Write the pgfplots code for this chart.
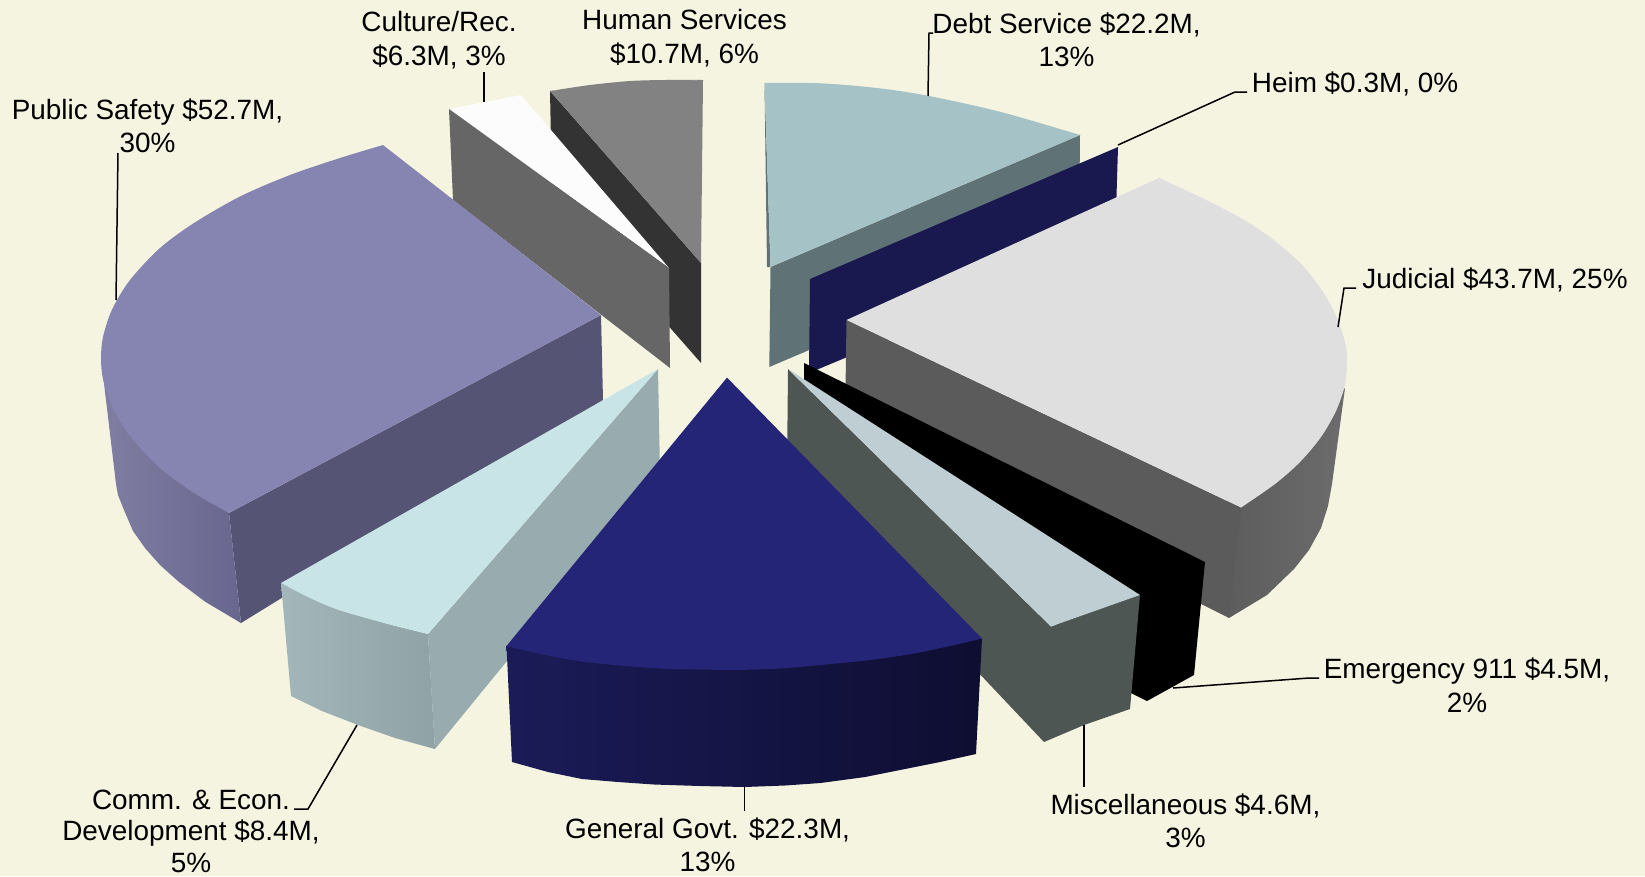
\documentclass[border=0pt]{standalone}
\usepackage{pgfplots}
\pgfplotsset{compat=1.18}
\usepackage{fontspec}
\setmainfont{Liberation Sans}
\definecolor{bg}{HTML}{F5F4E1}
\definecolor{hsT}{RGB}{130,130,130}
\definecolor{hsW}{RGB}{51,51,51}
\definecolor{crT}{RGB}{252,252,252}
\definecolor{crW}{RGB}{102,102,102}
\definecolor{psT}{RGB}{134,133,178}
\definecolor{psW}{RGB}{86,84,116}
\definecolor{dsT}{RGB}{165,195,199}
\definecolor{dsW}{RGB}{95,114,117}
\definecolor{hm}{RGB}{25,25,80}
\definecolor{juT}{RGB}{223,223,223}
\definecolor{juW}{RGB}{91,91,91}
\definecolor{miT}{RGB}{191,206,210}
\definecolor{miW}{RGB}{78,86,84}
\definecolor{coT}{RGB}{201,228,230}
\definecolor{coW}{RGB}{152,171,174}
\definecolor{geT}{RGB}{37,37,120}
\tikzset{lab/.style={font=\fontsize{27.9}{33.5}\selectfont, align=center, inner sep=0pt, text=black}}
\begin{document}
\begin{tikzpicture}[x=1pt,y=1pt]
\begin{axis}[
  scale only axis, width=1645pt, height=876pt,
  xmin=0, xmax=1645, ymin=0, ymax=876, y dir=reverse,
  axis lines=none, ticks=none, clip=true,
]
% background
\addplot[draw=none,fill=bg] coordinates {(0,0)(1645,0)(1645,876)(0,876)} --cycle;
% Human Services
\addplot[draw=none,fill=hsW] coordinates {(550,91)(701,263)(701,363)(552,193)} --cycle;
\addplot[smooth,draw=none,fill=hsT] coordinates {(550,91)(590,85)(630,81)(665,80)(703,80)} --cycle;
\addplot[draw=none,fill=hsT] coordinates {(550,91)(630,83)(703,80)(701,263)} --cycle;
% Culture/Rec.
\addplot[draw=none,fill=crT] coordinates {(449,109)(485,102)(521,95)(669,268)} --cycle;
\addplot[draw=none,fill=crW] coordinates {(449,109)(669,268)(670,368)(453,200)} --cycle;
% Public Safety
\addplot[draw=none,fill=psW] coordinates {(229,513)(601,315)(603,400)(241,623)} --cycle;
\addplot[draw=none,left color={rgb,255:red,128;green,126;blue,162},right color={rgb,255:red,104;green,102;blue,142}] coordinates {(101,358)(116,484)(118,495)(124,510)(133,531)(145,548)(160,565)(179,582)(205,601.6)(241,623)(229,513)} --cycle;
\addplot[smooth,draw=none,fill=psT] coordinates {(383,145)(340,158)(290,175)(240,196.5)(194,223)(160,248)(130,280)(112,309.6)(103,337)(101,358)(103,379)(112,406)(130,436)(160,468)(194,493)(229,513)} --cycle;
\addplot[draw=none,fill=psT] coordinates {(601,315)(383,145)(290,300)(229,513)} --cycle;
% Debt Service
\addplot[draw=none,fill=dsW] coordinates {(1080,135)(770.5,267)(769.3,367)(1079,235)} --cycle;
\addplot[draw=none,fill=dsW] coordinates {(764.5,83)(770.5,267)(767,267)} --cycle;
\addplot[smooth,draw=none,fill=dsT] coordinates {(764.5,83)(820.6,83.3)(877,88)(929,96)(1001,112)(1080,135)} --cycle;
\addplot[draw=none,fill=dsT] coordinates {(764.5,83)(929,100)(1080,135)(770.5,267)} --cycle;
% Heim
\addplot[draw=none,fill=hm] coordinates {(1118,147)(810,279)(809,373)(1115,245)} --cycle;
% Judicial
\addplot[draw=none,left color=juW,right color={rgb,255:red,108;green,108;blue,108}] coordinates {(1215,600)(1220,507)(1345,388)(1332,484)(1328,506)(1321,528)(1309,550)(1294,569)(1267,595)(1229,618)} --cycle;
\addplot[draw=none,fill=juW] coordinates {(846.5,320)(1241,507.5)(1229,618)(845,425)} --cycle;
\addplot[smooth,draw=none,fill=juT] coordinates {(1159,178)(1200,197)(1242.5,219)(1275,241)(1303,266)(1325,295)(1339,323)(1346,347)(1347,363)(1345,385)(1336,411)(1321,437)(1300,462)(1275,484)(1241,507.5)} --cycle;
\addplot[draw=none,fill=juT] coordinates {(846.5,320)(1159,178)(1300,350)(1241,507.5)} --cycle;
% Emergency 911
\addplot[draw=none,fill=black] coordinates {(804,363)(1205,562)(1194,675)(1147,701)(1125,690)(804,384)} --cycle;
% Miscellaneous
\addplot[draw=none,fill=miW] coordinates {(788,369)(1051,626.5)(1092,612)(1140,595)(1130,709)(1084,725)(1044,742)(787,470)} --cycle;
\addplot[draw=none,fill=miT] coordinates {(788,369)(1140,595)(1092,612)(1051,626.5)} --cycle;
% Comm. & Econ.
\addplot[draw=none,fill=coW] coordinates {(658,369)(428,634)(435,749)(660,474)} --cycle;
\addplot[draw=none,left color={rgb,255:red,163;green,182;blue,186},right color={rgb,255:red,143;green,162;blue,165}] coordinates {(281,583)(291,696)(322,711)(358,725)(395,738)(435,749)(428,634)(388,624)(339,610)} --cycle;
\addplot[smooth,draw=none,fill=coT] coordinates {(281,583)(310,598)(339,610)(388,624)(428,634)} --cycle;
\addplot[draw=none,fill=coT] coordinates {(658,369)(281,583)(350,610)(428,634)} --cycle;
% General Govt.
\addplot[draw=none,left color={rgb,255:red,27;green,27;blue,88},right color={rgb,255:red,14;green,14;blue,50}] coordinates {(506.5,646)(512,762)(548,772)(582,779)(618,782)(654,784.5)(700,786)(744.5,787)(785,785.5)(820.5,783)(865,777)(905,769)(940,762)(976,754)(982,638.5)} --cycle;
\addplot[smooth,draw=none,fill=geT] coordinates {(506.5,646)(545,655)(582,661.5)(620,665.5)(660,668.5)(700,669.5)(735,670)(780,668.5)(820,665)(870,660)(911,654)(950,646)(982,638.5)} --cycle;
\addplot[draw=none,fill=geT] coordinates {(727,377.6)(506.5,646)(735,660)(982,638.5)} --cycle;
% leader lines
\addplot[black,line width=1.5pt] coordinates {(116,300)(118,153)};
\addplot[black,line width=1.5pt] coordinates {(484,102)(484,72)};
\addplot[black,line width=1.5pt] coordinates {(928,96)(929,33)(933,33)};
\addplot[black,line width=1.5pt] coordinates {(1118,145)(1235,92)(1247,92)};
\addplot[black,line width=1.5pt] coordinates {(1338,327)(1344,288)(1356,288)};
\addplot[black,line width=1.5pt] coordinates {(1173,688)(1309,678)(1319,678)};
\addplot[black,line width=1.5pt] coordinates {(1084,725)(1084,787)};
\addplot[black,line width=1.5pt] coordinates {(744.6,787)(744.6,811)};
\addplot[black,line width=1.5pt] coordinates {(357,725)(308,809)(294,809)};
% labels
\node[lab] at (axis cs:147.5,126) {Public Safety \$52.7M,\\30\%};
\node[lab] at (axis cs:439,40) {Culture/Rec.\\\$6.3M, 3\%};
\node[lab] at (axis cs:684.5,38) {Human Services\\\$10.7M, 6\%};
\node[lab] at (axis cs:1066.5,40) {Debt Service \$22.2M,\\13\%};
\node[lab] at (axis cs:1355,84) {Heim \$0.3M, 0\%};
\node[lab] at (axis cs:1495,280) {Judicial \$43.7M, 25\%};
\node[lab] at (axis cs:1467,685) {Emergency 911 \$4.5M,\\2\%};
\node[lab] at (axis cs:1185.4,821) {Miscellaneous \$4.6M,\\3\%};
\node[lab] at (axis cs:707.6,845) {General Govt. \$22.3M,\\13\%};
\node[lab,font=\fontsize{27.9}{31.5}\selectfont] at (axis cs:191,831) {Comm. \& Econ.\\Development \$8.4M,\\5\%};
\end{axis}
\end{tikzpicture}
\end{document}
